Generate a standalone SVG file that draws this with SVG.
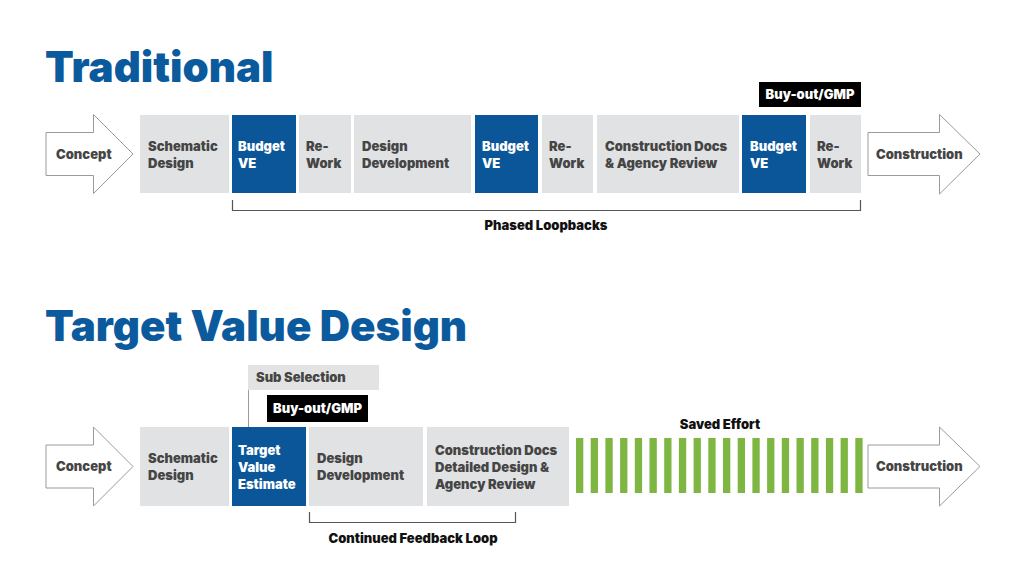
<svg xmlns="http://www.w3.org/2000/svg" width="1024" height="585" viewBox="0 0 1024 585">
<style>
.title{font-family:"Inter","Roboto","Liberation Sans",sans-serif;font-weight:900;font-size:42px;fill:#0b5a9d}
.box{fill:#e1e2e3}
.blue{fill:#0b5699}
.blk{fill:#000}
.t{font-family:"Inter","Roboto","Liberation Sans",sans-serif;font-weight:900;font-size:13px;fill:#454545}
.w{fill:#fff}
.lbl{font-family:"Inter","Roboto","Liberation Sans",sans-serif;font-weight:900;font-size:13px;fill:#111}
.arrow{fill:#fff;stroke:#9a9a9a;stroke-width:1}
.br{fill:none;stroke:#555;stroke-width:1.2}
.bar{fill:#7db742}
</style>
<rect width="1024" height="585" fill="#fff"/>
<text class="title" x="45" y="82">Traditional</text>
<text class="title" x="45" y="341">Target Value Design</text>

<g id="t-concept"><path class="arrow" d="M46,132.5H93.5V114.5L133,154L93.5,193.5V175.5H46Z"/><text class="t" x="56" y="159">Concept</text></g>
<g id="t-schematic"><rect class="box" x="140" y="115" width="89" height="78"/><text class="t" x="148" y="151">Schematic</text><text class="t" x="148" y="168">Design</text></g>
<g id="t-budget1"><rect class="blue" x="232" y="115" width="64" height="78"/><text class="t w" x="238" y="151">Budget</text><text class="t w" x="238" y="168">VE</text></g>
<g id="t-rework1"><rect class="box" x="299" y="115" width="52" height="78"/><text class="t" x="306" y="151">Re-</text><text class="t" x="306" y="168">Work</text></g>
<g id="t-dd"><rect class="box" x="354" y="115" width="117" height="78"/><text class="t" x="362" y="151">Design</text><text class="t" x="362" y="168">Development</text></g>
<g id="t-budget2"><rect class="blue" x="475" y="115" width="63" height="78"/><text class="t w" x="482" y="151">Budget</text><text class="t w" x="482" y="168">VE</text></g>
<g id="t-rework2"><rect class="box" x="542" y="115" width="51" height="78"/><text class="t" x="549" y="151">Re-</text><text class="t" x="549" y="168">Work</text></g>
<g id="t-cd"><rect class="box" x="597" y="115" width="142" height="78"/><text class="t" x="605" y="151">Construction Docs</text><text class="t" x="605" y="168">&amp; Agency Review</text></g>
<g id="t-budget3"><rect class="blue" x="742" y="115" width="64" height="78"/><text class="t w" x="750" y="151">Budget</text><text class="t w" x="750" y="168">VE</text></g>
<g id="t-rework3"><rect class="box" x="810" y="115" width="51" height="78"/><text class="t" x="817" y="151">Re-</text><text class="t" x="817" y="168">Work</text></g>
<g id="t-gmp"><rect class="blk" x="759" y="82" width="102" height="25"/><text class="t w" x="810" y="99" text-anchor="middle">Buy-out/GMP</text></g>
<g id="t-construction"><path class="arrow" d="M868,132.5H939.5V114.5L980,154L939.5,194V175.5H868Z"/><text class="t" x="876" y="159">Construction</text></g>

<g id="b-concept"><path class="arrow" d="M46,445H93.5V427L133,466.5L93.5,506V488H46Z"/><text class="t" x="56" y="471">Concept</text></g>
<g id="b-schematic"><rect class="box" x="140" y="427" width="89" height="79"/><text class="t" x="148" y="463">Schematic</text><text class="t" x="148" y="480">Design</text></g>
<g id="b-tve"><rect class="blue" x="232" y="427" width="74" height="79"/><text class="t w" x="238" y="455">Target</text><text class="t w" x="238" y="472">Value</text><text class="t w" x="238" y="489">Estimate</text></g>
<g id="b-dd"><rect class="box" x="309" y="427" width="114" height="79"/><text class="t" x="317" y="463">Design</text><text class="t" x="317" y="480">Development</text></g>
<g id="b-cd"><rect class="box" x="427" y="427" width="142" height="79"/><text class="t" x="435" y="455">Construction Docs</text><text class="t" x="435" y="472">Detailed Design &amp;</text><text class="t" x="435" y="489">Agency Review</text></g>
<g id="b-sub"><rect fill="#e3e3e3" x="248" y="365" width="131" height="25"/><text class="t" x="256" y="382">Sub Selection</text></g>
<g id="b-gmp"><rect class="blk" x="267" y="395" width="101" height="27"/><text class="t w" x="317.5" y="413" text-anchor="middle">Buy-out/GMP</text></g>
<g id="b-saved">
<rect class="bar" x="576" y="438" width="7.3" height="55"/><rect class="bar" x="590.7" y="438" width="7.3" height="55"/><rect class="bar" x="605.4" y="438" width="7.3" height="55"/><rect class="bar" x="620.1" y="438" width="7.3" height="55"/><rect class="bar" x="634.8" y="438" width="7.3" height="55"/><rect class="bar" x="649.5" y="438" width="7.3" height="55"/><rect class="bar" x="664.2" y="438" width="7.3" height="55"/><rect class="bar" x="678.9" y="438" width="7.3" height="55"/><rect class="bar" x="693.6" y="438" width="7.3" height="55"/><rect class="bar" x="708.3" y="438" width="7.3" height="55"/><rect class="bar" x="723" y="438" width="7.3" height="55"/><rect class="bar" x="737.7" y="438" width="7.3" height="55"/><rect class="bar" x="752.4" y="438" width="7.3" height="55"/><rect class="bar" x="767.1" y="438" width="7.3" height="55"/><rect class="bar" x="781.8" y="438" width="7.3" height="55"/><rect class="bar" x="796.5" y="438" width="7.3" height="55"/><rect class="bar" x="811.2" y="438" width="7.3" height="55"/><rect class="bar" x="825.9" y="438" width="7.3" height="55"/><rect class="bar" x="840.6" y="438" width="7.3" height="55"/><rect class="bar" x="855.3" y="438" width="7.3" height="55"/>
<text class="lbl" x="720" y="429" text-anchor="middle">Saved Effort</text>
</g>
<g id="b-construction"><path class="arrow" d="M868,445H939.5V427L980,466.5L939.5,506V488H868Z"/><text class="t" x="876" y="471">Construction</text></g>

<g id="connectors">
<path class="br" d="M232.5,200V210.5H860.5V200"/>
<text class="lbl" x="546" y="230" text-anchor="middle">Phased Loopbacks</text>
<path d="M248.5,390V427" fill="none" stroke="#9a9a9a" stroke-width="1"/>
<path class="br" d="M309.5,512V522.5H515.5V512"/>
<text class="lbl" x="413" y="543" text-anchor="middle">Continued Feedback Loop</text>
</g>
</svg>
